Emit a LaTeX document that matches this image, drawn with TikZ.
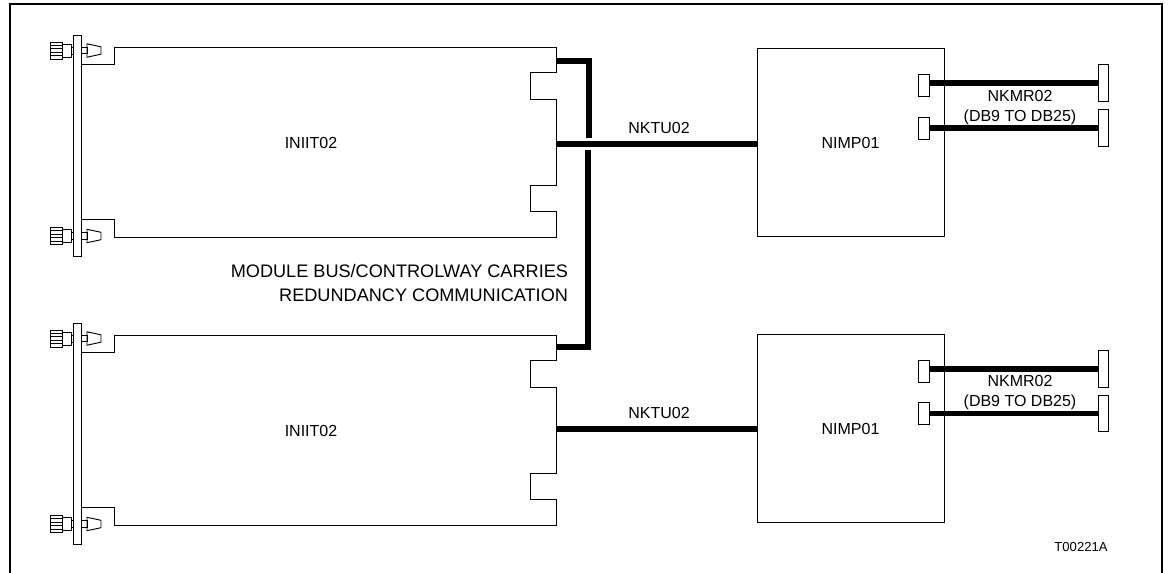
\documentclass[tikz,border=0pt]{standalone}
\usepackage{fontspec}
\setmainfont{Liberation Sans}
\usepackage{tikz}
\usetikzlibrary{positioning}

\begin{document}
\begin{tikzpicture}[
  x=0.75pt, y=-0.75pt,
  outline/.style={draw, line width=0.7pt},
  frameline/.style={draw, line width=1.4pt},
  wire/.style={line width=4.4pt},
  box/.style={draw, line width=0.7pt, inner sep=0pt, outer sep=0pt, minimum width=140.25pt, minimum height=141.4pt, font=\fontsize{12}{14}\selectfont},
  portbox/.style={draw, line width=0.7pt, inner sep=0pt, outer sep=0pt, minimum width=8.25pt, minimum height=16.5pt},
  plugbox/.style={draw, line width=0.7pt, inner sep=0pt, outer sep=0pt, minimum width=7.5pt, minimum height=27.6pt},
  label/.style={inner sep=0pt, outer sep=0pt, align=center, font=\fontsize{12}{14}\selectfont}
]
\useasboundingbox (0,0) rectangle (1168,573);
\draw[frameline] (10,573) -- (10,4) -- (1162,4) -- (1162,573);

% the two cards with their front plates
\foreach \cardy/\cardname in {0/one, 288/two} {
  \begin{scope}[shift={(0,\cardy)}]
    \draw[outline] (73,35) rectangle (81,256);
    \draw[outline] (81,64) -- (114,64) -- (114,47) -- (556,47) -- (556,72.5) -- (530,72.5) -- (530,99)
      -- (556,99) -- (556,185) -- (530,185) -- (530,211) -- (556,211) -- (556,237) -- (114,237) -- (114,219.5) -- (81,219.5);
    \foreach \knoby in {50.5, 236} {
      \draw[outline] (50,\knoby-8.5) rectangle (62,\knoby+8.5);
      \foreach \rib in {-5.1,-1.7,1.7,5.1} \draw[line width=0.6pt] (50,\knoby+\rib) -- (62,\knoby+\rib);
      \draw[outline] (62,\knoby-6.5) rectangle (71,\knoby+6.5);
      \draw[outline] (71,\knoby-3.5) rectangle (73,\knoby+3.5);
      \draw[outline] (81,\knoby-3.2) rectangle (87,\knoby+3.2);
      \draw[outline] (87,\knoby-6.7) -- (101,\knoby-3.7) -- (101,\knoby+3.7) -- (87,\knoby+6.7) -- cycle;
    }
    \node[label] (card\cardname) at (311,142.5) {INIIT02};
    \coordinate (edge\cardname) at (556,143.7);
  \end{scope}
}

\node[box] (nimpone) at (850.5,142.5) {NIMP01};
\node[box] (nimptwo) at (850.5,428.5) {NIMP01};

\node[portbox] (portonea) at (923.5,85.5) {};
\node[portbox] (portoneb) at (923.5,128) {};
\node[portbox] (porttwoa) at (923.5,371.5) {};
\node[portbox] (porttwob) at (923.5,413.5) {};
\node[plugbox] (plugonea) at (1103,83) {};
\node[plugbox] (plugoneb) at (1103,128) {};
\node[plugbox] (plugtwoa) at (1103,369) {};
\node[plugbox] (plugtwob) at (1103,413.5) {};

\draw[wire] (plugonea.west -| portonea.east) -- (plugonea.west);
\draw[wire] (portoneb.east) -- (plugoneb.west);
\draw[wire] (plugtwoa.west -| porttwoa.east) -- (plugtwoa.west);
\draw[wire] (porttwob.east) -- (plugtwob.west);

% module bus, broken where it passes the first cable
\coordinate (busone) at (556,61.2);
\coordinate (gapone) at (589,137.7);
\coordinate (bustwo) at (556,347.3);
\coordinate (gaptwo) at (588,150);
\coordinate (edgelow) at (556,428.7);
\draw[wire] (busone) -| (gapone);
\draw[wire] (bustwo) -| (gaptwo);

\draw[wire] (edgeone) -- (nimpone.west |- edgeone);
\draw[wire] (edgelow) -- (nimptwo.west |- edgelow);

\node[label] (cableone) at (659,128) {NKTU02};
\node[label] (cabletwo) at (659,413) {NKTU02};
\node[label, font=\fontsize{12}{14.5}\selectfont] (kitone) at (1020,107.5) {NKMR02\\(DB9 TO DB25)};
\node[label, font=\fontsize{12}{14.5}\selectfont] (kittwo) at (1020,392.5) {NKMR02\\(DB9 TO DB25)};
\node[label, align=right, anchor=east, font=\fontsize{13.6}{18}\selectfont] (buslabel) at (568,283) {MODULE BUS/CONTROLWAY CARRIES\\REDUNDANCY COMMUNICATION};
\node[label, font=\fontsize{9.8}{12}\selectfont] (drawingno) at (1081,547) {T00221A};
\end{tikzpicture}
\end{document}
